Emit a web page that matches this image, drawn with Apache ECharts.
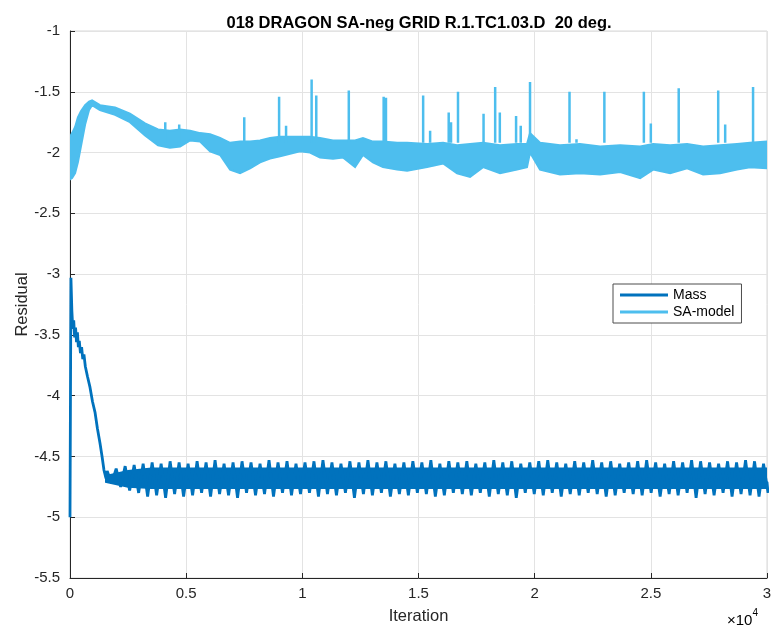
<!DOCTYPE html>
<html>
<head>
<meta charset="utf-8">
<script src="https://cdn.jsdelivr.net/npm/echarts@6/dist/echarts.min.js"></script>
<style>
  html, body { margin: 0; padding: 0; background: #fff; }
  #main { width: 774px; height: 629px; }
</style>
</head>
<body>
<div id="main"></div>
<script>
// iteration axis is in units of 1e4
const saX = [0, 0.009, 0.022, 0.034, 0.047, 0.065, 0.082, 0.095, 0.129, 0.194,
  0.258, 0.323, 0.379, 0.430, 0.474, 0.517, 0.560, 0.603, 0.646, 0.689,
  0.732, 0.775, 0.818, 0.861, 0.904, 0.990, 1.033, 1.076, 1.132, 1.175,
  1.227, 1.261, 1.304, 1.347, 1.408, 1.451, 1.537, 1.606, 1.666, 1.722,
  1.778, 1.851, 1.924, 1.967, 1.980, 2.023, 2.109, 2.195, 2.282, 2.368,
  2.454, 2.51, 2.583, 2.656, 2.725, 2.798, 2.871, 2.927, 3.0];
const saUpper = [-1.87, -1.84, -1.79, -1.71, -1.66, -1.61, -1.58, -1.57, -1.61, -1.63,
  -1.68, -1.76, -1.81, -1.82, -1.81, -1.82, -1.84, -1.85, -1.88, -1.92,
  -1.91, -1.91, -1.90, -1.88, -1.87, -1.87, -1.87, -1.88, -1.90, -1.90,
  -1.90, -1.88, -1.91, -1.91, -1.92, -1.92, -1.93, -1.92, -1.94, -1.93,
  -1.92, -1.94, -1.93, -1.93, -1.84, -1.92, -1.94, -1.93, -1.95, -1.94,
  -1.95, -1.93, -1.94, -1.93, -1.95, -1.94, -1.93, -1.92, -1.91];
const saLower = [-2.22, -2.21, -2.17, -2.08, -1.95, -1.77, -1.65, -1.61, -1.65, -1.69,
  -1.75, -1.86, -1.94, -1.96, -1.95, -1.90, -1.91, -1.99, -2.02, -2.14,
  -2.17, -2.13, -2.08, -2.05, -2.03, -1.99, -2.00, -2.04, -2.05, -2.04,
  -2.12, -2.02, -2.08, -2.12, -2.14, -2.15, -2.12, -2.09, -2.17, -2.20,
  -2.12, -2.17, -2.14, -2.12, -2.00, -2.14, -2.18, -2.17, -2.18, -2.16,
  -2.21, -2.14, -2.17, -2.13, -2.18, -2.17, -2.14, -2.12, -2.13];

const spikeX    = [0.41, 0.47, 0.75, 0.90, 0.93, 1.04, 1.06, 1.20, 1.35, 1.36, 1.52, 1.55, 1.63, 1.64, 1.67, 1.78, 1.83, 1.85, 1.92, 1.94, 1.98, 2.15, 2.18, 2.30, 2.47, 2.50, 2.62, 2.79, 2.82, 2.94];
const spikePeak = [-1.75, -1.77, -1.71, -1.54, -1.78, -1.40, -1.53, -1.49, -1.54, -1.55, -1.53, -1.82, -1.67, -1.75, -1.50, -1.68, -1.46, -1.67, -1.70, -1.78, -1.42, -1.50, -1.89, -1.50, -1.50, -1.76, -1.47, -1.49, -1.77, -1.46];
const spikeBase = -1.92;

const massHeadX = [0, 0.004, 0.008, 0.012, 0.016, 0.02, 0.024, 0.028, 0.032, 0.036, 0.04, 0.045, 0.05, 0.055, 0.06, 0.066, 0.075, 0.086, 0.097, 0.108, 0.118, 0.129, 0.138, 0.146, 0.155];
const massHeadY = [-5.0, -3.03, -3.3, -3.45, -3.38, -3.52, -3.44, -3.56, -3.48, -3.6, -3.55, -3.65, -3.6, -3.7, -3.66, -3.76, -3.84, -3.93, -4.05, -4.14, -4.27, -4.39, -4.5, -4.61, -4.68];

// one top and one bottom tooth per oscillation
const massStart = 0.16, massPeriod = 0.0387;
const massTops = [
  -4.62, -4.60, -4.58, -4.57, -4.56, -4.55, -4.56, -4.54, -4.55, -4.56,
  -4.54, -4.55, -4.53, -4.56, -4.55, -4.54, -4.55, -4.56, -4.53, -4.55,
  -4.54, -4.56, -4.55, -4.54, -4.53, -4.55, -4.56, -4.54, -4.55, -4.53,
  -4.55, -4.54, -4.56, -4.55, -4.54, -4.55, -4.53, -4.56, -4.54, -4.55,
  -4.54, -4.56, -4.55, -4.53, -4.55, -4.54, -4.56, -4.55, -4.54, -4.53,
  -4.55, -4.56, -4.54, -4.55, -4.53, -4.55, -4.54, -4.56, -4.55, -4.54,
  -4.53, -4.55, -4.56, -4.54, -4.55, -4.53, -4.54, -4.55, -4.56, -4.54,
  -4.55, -4.53, -4.54, -4.56
];
const massBottoms = [
  -4.72, -4.75, -4.78, -4.80, -4.83, -4.82, -4.84, -4.81, -4.83, -4.82,
  -4.80, -4.83, -4.81, -4.82, -4.84, -4.80, -4.82, -4.81, -4.83, -4.80,
  -4.82, -4.81, -4.80, -4.83, -4.81, -4.82, -4.80, -4.84, -4.81, -4.82,
  -4.80, -4.83, -4.81, -4.82, -4.80, -4.81, -4.83, -4.82, -4.80, -4.81,
  -4.82, -4.80, -4.83, -4.81, -4.82, -4.84, -4.80, -4.81, -4.82, -4.80,
  -4.83, -4.81, -4.82, -4.80, -4.81, -4.83, -4.82, -4.80, -4.81, -4.82,
  -4.80, -4.83, -4.81, -4.82, -4.80, -4.84, -4.81, -4.82, -4.80, -4.83,
  -4.81, -4.82, -4.83, -4.80
];
const massEnd = [3.0, -4.71];

// dense core of the mass oscillation
const massCoreX     = [0.155, 0.25, 0.35, 3.0];
const massCoreUpper = [-4.66, -4.62, -4.60, -4.60];
const massCoreLower = [-4.71, -4.75, -4.76, -4.76];

const MASS = '#0072BD', SA = '#4DBEEE';
const FONT = 'Liberation Sans';

const massData = massHeadX.map((x, i) => [x, massHeadY[i]]);
massTops.forEach((t, i) => {
    const x = massStart + i * massPeriod;
    massData.push([x, t]);
    massData.push([x + massPeriod / 2, massBottoms[i]]);
});
massData.push(massEnd);

const spikeData = [];
spikeX.forEach((x, i) => {
    spikeData.push([x, spikeBase], [x, spikePeak[i]], [x, spikeBase], [x, null]);
});

// filled band between an upper and lower envelope, placed via the axes
function band(name, xs, up, lo, color) {
    return {
        name: name, type: 'custom', silent: true, clip: true,
        data: xs.map((x, i) => [x, up[i], lo[i]]),
        encode: { x: 0, y: [1, 2] },
        renderItem: (params, api) => {
            if (params.dataIndex !== 0) return;
            const pts = [];
            xs.forEach((x, i) => pts.push(api.coord([x, up[i]])));
            for (let i = xs.length - 1; i >= 0; i--) pts.push(api.coord([xs[i], lo[i]]));
            return {
                type: 'polygon', shape: { points: pts },
                style: { fill: color, stroke: color, lineWidth: 2 }
            };
        }
    };
}

const chart = echarts.init(document.getElementById('main'));
chart.setOption({
    animation: false,
    title: {
        text: '018 DRAGON SA-neg GRID R.1.TC1.03.D  20 deg.',
        left: 414, top: 10, textAlign: 'center',
        textStyle: { fontFamily: FONT, fontSize: 16.5, fontWeight: 'bold', color: '#000' }
    },
    grid: {
        left: 70, right: 7, top: 31, bottom: 51, outerBoundsMode: 'none', containLabel: false,
        show: true, borderColor: '#d9d9d9', borderWidth: 1
    },
    legend: {
        data: [{ name: 'Mass', icon: 'rect' }, { name: 'SA-model', icon: 'rect' }],
        orient: 'vertical', left: 613, top: 284,
        padding: [4, 7, 4, 7], itemGap: 3, itemWidth: 48, itemHeight: 3,
        backgroundColor: '#fff', borderColor: '#4d4d4d', borderWidth: 1,
        textStyle: { fontFamily: FONT, fontSize: 14, lineHeight: 14, color: '#000' }
    },
    xAxis: {
        type: 'value', min: 0, max: 3, interval: 0.5,
        name: 'Iteration', nameLocation: 'middle', nameGap: 30, nameMoveOverlap: false,
        nameTextStyle: { fontFamily: FONT, fontSize: 16.5, color: '#262626' },
        axisLine: { lineStyle: { color: '#262626', width: 1 } },
        axisTick: { inside: true, length: 5, lineStyle: { color: '#262626' } },
        axisLabel: { fontFamily: FONT, fontSize: 15, color: '#262626', margin: 8 },
        splitLine: { lineStyle: { color: '#e3e3e3' } }
    },
    yAxis: {
        type: 'value', min: -5.5, max: -1, interval: 0.5,
        name: 'Residual', nameLocation: 'middle', nameGap: 39, nameRotate: 90, nameMoveOverlap: false,
        nameTextStyle: { fontFamily: FONT, fontSize: 16.5, color: '#262626' },
        axisLine: { show: true, lineStyle: { color: '#262626', width: 1 } },
        axisTick: { show: true, inside: true, length: 5, lineStyle: { color: '#262626' } },
        axisLabel: { fontFamily: FONT, fontSize: 15, color: '#262626', margin: 10 },
        splitLine: { lineStyle: { color: '#e3e3e3' } }
    },
    graphic: [{
        type: 'text', left: 727, top: 608,
        style: {
            text: '{a|×10}{b|4}',
            rich: {
                a: { fontFamily: FONT, fontSize: 15, color: '#262626', padding: [10, 0, 0, 0] },
                b: { fontFamily: FONT, fontSize: 10, color: '#262626', padding: [0, 0, 6, 0] }
            }
        }
    }],
    series: [
        band('saBand', saX, saUpper, saLower, SA),
        {
            name: 'SA-model', type: 'line', symbol: 'none', connectNulls: false,
            color: SA, lineStyle: { width: 2.5, color: SA },
            data: spikeData
        },
        band('massBand', massCoreX, massCoreUpper, massCoreLower, MASS),
        {
            name: 'Mass', type: 'line', symbol: 'none',
            color: MASS, lineStyle: { width: 2.8, color: MASS },
            data: massData
        }
    ]
});
</script>
</body>
</html>
